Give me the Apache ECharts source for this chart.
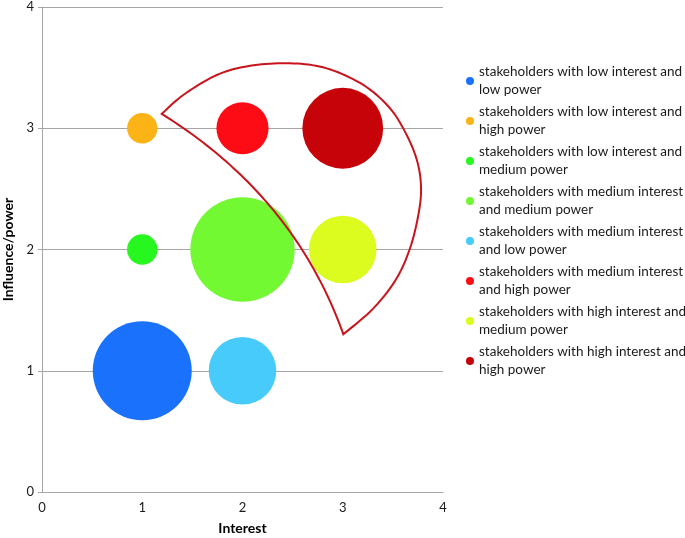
<!DOCTYPE html>
<html>
<head>
<meta charset="utf-8">
<script src="https://cdn.jsdelivr.net/npm/echarts@6/dist/echarts.min.js"></script>
<style>html,body{margin:0;padding:0;background:#fff;}#c{width:685px;height:538px;}</style>
</head>
<body>
<div id="c"></div>
<script>
// Series names (legend)
var seriesNames = [
  'stakeholders with low interest and low power',
  'stakeholders with low interest and high power',
  'stakeholders with low interest and medium power',
  'stakeholders with medium interest and medium power',
  'stakeholders with medium interest and low power',
  'stakeholders with medium interest and high power',
  'stakeholders with high interest and medium power',
  'stakeholders with high interest and high power'
];
var interest = [1, 1, 1, 2, 2, 2, 3, 3];
var power    = [1, 3, 2, 2, 1, 3, 2, 3];
var bubbleSize = [9, 0.85, 0.85, 10, 4.2, 2.5, 4.2, 6];
var colors = ['#1a71fb', '#fbb315', '#27f61f', '#72f932', '#46cbfb', '#fe0c16', '#dcfb1f', '#c60308'];
var xTicks = [0, 1, 2, 3, 4];
var yTicks = [0, 1, 2, 3, 4];

// Annotation outline (data coordinates): outer arc and inner curve (quadratic: start, control, end)
var outerArc = [
  [1.194, 3.118], [1.409, 3.274], [1.743, 3.439], [2.075, 3.515], [2.474, 3.536],
  [2.840, 3.494], [3.205, 3.357], [3.471, 3.165], [3.638, 2.944], [3.744, 2.724],
  [3.781, 2.505], [3.754, 2.285], [3.671, 2.010], [3.530, 1.752], [3.300, 1.510],
  [3.006, 1.301]
];
var innerCurve = [[3.006, 1.301], [2.512, 2.443], [1.194, 3.118]];

function catmull(pts, steps) {
  var out = [];
  for (var i = 0; i < pts.length - 1; i++) {
    var p0 = pts[Math.max(i - 1, 0)], p1 = pts[i], p2 = pts[i + 1], p3 = pts[Math.min(i + 2, pts.length - 1)];
    for (var s = 0; s < steps; s++) {
      var t = s / steps, t2 = t * t, t3 = t2 * t;
      out.push([0, 1].map(function (k) {
        return 0.5 * ((2 * p1[k]) + (-p0[k] + p2[k]) * t + (2 * p0[k] - 5 * p1[k] + 4 * p2[k] - p3[k]) * t2 + (-p0[k] + 3 * p1[k] - 3 * p2[k] + p3[k]) * t3);
      }));
    }
  }
  out.push(pts[pts.length - 1]);
  return out;
}
function quad(p0, c, p2, steps) {
  var out = [];
  for (var s = 0; s <= steps; s++) {
    var t = s / steps, u = 1 - t;
    out.push([u * u * p0[0] + 2 * u * t * c[0] + t * t * p2[0], u * u * p0[1] + 2 * u * t * c[1] + t * t * p2[1]]);
  }
  return out;
}

var maxSize = 10, maxDiameter = 104.3;
var series = seriesNames.map(function (n, i) {
  return {
    name: n,
    type: 'scatter',
    z: 2,
    itemStyle: { color: colors[i], opacity: 1 },
    symbolSize: function (d) { return maxDiameter * Math.sqrt(d[2] / maxSize); },
    data: [[interest[i], power[i], bubbleSize[i]]],
    emphasis: { disabled: true }
  };
});
series.push({
  name: 'outline',
  type: 'custom',
  z: 5,
  silent: true,
  data: [[0, 0]],
  renderItem: function (params, api) {
    var a = catmull(outerArc.map(function (p) { return api.coord(p); }), 10);
    var q = innerCurve.map(function (p) { return api.coord(p); });
    var b = quad(q[0], q[1], q[2], 60);
    var pts = a.concat(b.slice(1, b.length - 1));
    return {
      type: 'polygon',
      shape: { points: pts },
      style: { fill: 'none', stroke: '#c8141c', lineWidth: 2, lineJoin: 'miter' }
    };
  }
});

var chart = echarts.init(document.getElementById('c'));
chart.setOption({
  animation: false,
  backgroundColor: '#ffffff',
  textStyle: { fontFamily: 'Lato' },
  grid: { left: 42, right: 242, top: 7, bottom: 46, containLabel: false, outerBoundsMode: 'none' },
  legend: {
    data: seriesNames,
    orient: 'vertical',
    left: 461,
    top: 49,
    icon: 'circle',
    itemWidth: 8,
    itemHeight: 8,
    itemGap: -14,
    selectedMode: false,
    formatter: function (name) {
      var w = name.split(' ');
      var k = name.indexOf('medium interest') >= 0 ? 4 : 5;
      return w.slice(0, k).join(' ') + '\n' + w.slice(k).join(' ');
    },
    textStyle: { fontFamily: 'Lato', fontSize: 13.5, color: '#1a1a1a', lineHeight: 18, padding: [18, 0, 0, 0] }
  },
  xAxis: {
    type: 'value', min: 0, max: 4, interval: 1,
    name: 'Interest', nameLocation: 'middle', nameGap: 29,
    nameTextStyle: { fontFamily: 'Lato', fontWeight: 'bold', fontSize: 14, color: '#000' },
    axisLine: { show: true, lineStyle: { color: '#a6a6a6', width: 1 } },
    axisTick: { show: false },
    axisLabel: { color: '#1a1a1a', fontSize: 13, margin: 9, formatter: function (v) { return xTicks.indexOf(v) >= 0 ? String(v) : ''; } },
    splitLine: { show: false }
  },
  yAxis: {
    type: 'value', min: 0, max: 4, interval: 1,
    name: 'Influence/power', nameLocation: 'middle', nameGap: 26, nameRotate: 90,
    nameTextStyle: { fontFamily: 'Lato', fontWeight: 'bold', fontSize: 14, color: '#000' },
    axisLine: { show: true, lineStyle: { color: '#a6a6a6', width: 1 } },
    axisTick: { show: true, length: 4, inside: false, lineStyle: { color: '#a6a6a6' } },
    axisLabel: { color: '#1a1a1a', fontSize: 13, margin: 8, formatter: function (v) { return yTicks.indexOf(v) >= 0 ? String(v) : ''; } },
    splitLine: { show: true, lineStyle: { color: '#a6a6a6', width: 1 } }
  },
  series: series
});
</script>
</body>
</html>
